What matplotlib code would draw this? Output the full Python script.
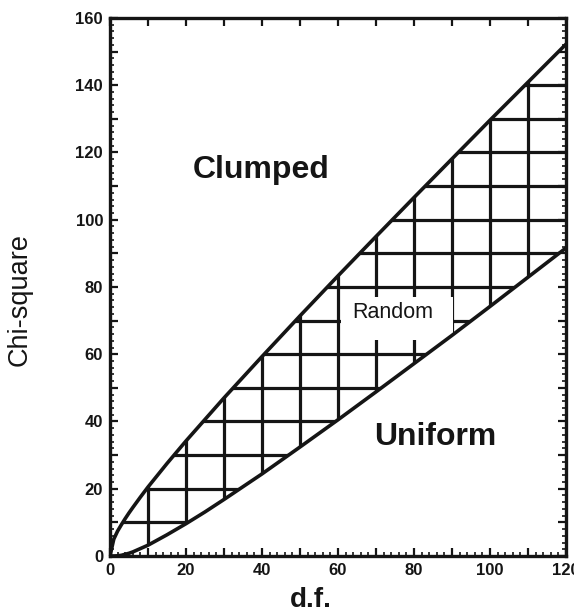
import numpy as np
import matplotlib
matplotlib.use("Agg")
import matplotlib.pyplot as plt
from matplotlib.patches import Rectangle
from matplotlib.ticker import MultipleLocator, FuncFormatter

# curve readings (d.f. vs chi-square bounds)
df = [0, 1, 2, 3, 4, 5, 6, 8, 10, 15, 20, 25, 30, 40, 50, 60, 70, 80, 90, 100, 110, 120]
upper = [0, 5.0, 7.4, 9.3, 11.1, 12.8, 14.4, 17.5, 20.5, 27.5, 34.2, 40.6, 47.0,
         59.3, 71.4, 83.3, 95.0, 106.6, 118.1, 129.6, 140.9, 152.2]
lower = [0, 0.0, 0.05, 0.2, 0.5, 0.8, 1.2, 2.2, 3.2, 6.3, 9.6, 13.1, 16.8,
         24.4, 32.4, 40.5, 48.8, 57.2, 65.6, 74.2, 82.9, 91.6]
hlines_y = [10, 20, 30, 40, 50, 60, 70, 80, 90, 100, 110, 120, 130, 140]
vlines_x = [10, 20, 30, 40, 50, 60, 70, 80, 90, 100, 110]

ink = '#151515'
fam = 'Liberation Sans'

fig = plt.figure(figsize=(5.74, 6.14), dpi=100)
ax = fig.add_axes([0.1916, 0.0945, 0.7944, 0.8762])

band = ax.fill_between(df, lower, upper, facecolor='none', edgecolor='none')
clip = band.get_paths()[0]

hl = ax.hlines(hlines_y, 0, 120, colors=ink, linewidth=2.3, zorder=2)
vl = ax.vlines(vlines_x, 0, 160, colors=ink, linewidth=2.3, zorder=2)
hl.set_clip_path(clip, ax.transData)
vl.set_clip_path(clip, ax.transData)

ax.plot(df, upper, color=ink, linewidth=2.6, zorder=4, solid_capstyle='round')
ax.plot(df, lower, color=ink, linewidth=2.6, zorder=4, solid_capstyle='round')

# white patch behind the "Random" label (hides the grid only)
ax.add_patch(Rectangle((60.7, 64.3), 29.6, 12.6, facecolor='white', edgecolor='none', zorder=3))
ax.text(74.5, 72.3, 'Random', fontsize=15.5, family=fam, ha='center', va='center',
        color=ink, zorder=5)

ax.text(39.7, 114.8, 'Clumped', fontsize=23, fontweight='bold', family=fam,
        ha='center', va='center', color=ink)
ax.text(85.7, 35.5, 'Uniform', fontsize=23, fontweight='bold', family=fam,
        ha='center', va='center', color=ink)

ax.set_xlim(0, 120)
ax.set_ylim(0, 160)

ax.xaxis.set_major_locator(MultipleLocator(10))
ax.xaxis.set_minor_locator(MultipleLocator(2))
ax.yaxis.set_major_locator(MultipleLocator(10))
ax.yaxis.set_minor_locator(MultipleLocator(2))
lab = FuncFormatter(lambda v, p: '%d' % v if int(round(v)) % 20 == 0 else '')
ax.xaxis.set_major_formatter(lab)
ax.yaxis.set_major_formatter(lab)

ax.tick_params(which='major', direction='in', length=6, width=1.6, color=ink,
               top=True, right=True, labelsize=12, pad=5)
ax.tick_params(which='minor', direction='in', length=3, width=1.2, color=ink,
               top=False, right=True)
for t in ax.get_xticklabels() + ax.get_yticklabels():
    t.set_fontweight('bold')
    t.set_family(fam)
    t.set_color(ink)

for s in ax.spines.values():
    s.set_linewidth(2.4)
    s.set_color(ink)

ax.set_xlabel('d.f.', fontsize=20, fontweight='bold', family=fam, color=ink)
ax.xaxis.set_label_coords(0.44, -0.058)
ax.set_ylabel('Chi-square', fontsize=19.5, family=fam, color=ink)
ax.yaxis.set_label_coords(-0.17, 0.476)

fig.savefig('out.png', dpi=100)
